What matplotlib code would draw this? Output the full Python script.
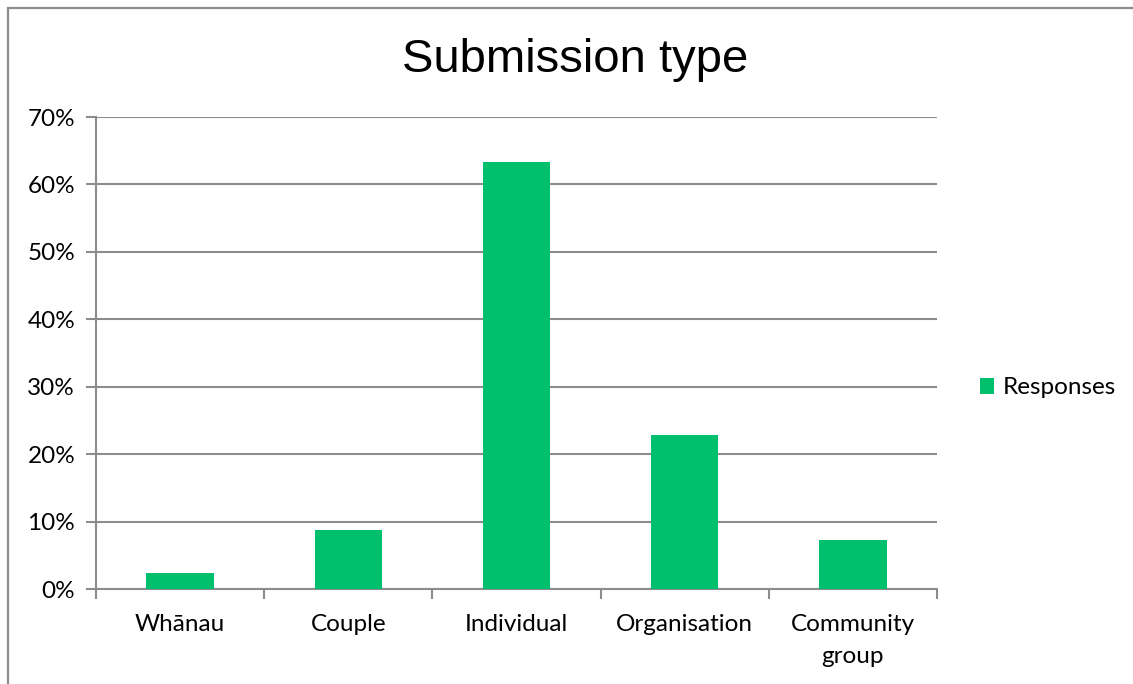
import matplotlib
matplotlib.use("Agg")
import matplotlib.pyplot as plt
from matplotlib.patches import Rectangle
import numpy as np

categories = ["Whānau", "Couple", "Individual", "Organisation", "Community\ngroup"]
responses = [2.4, 8.8, 63.3, 22.9, 7.3]
yticks = [0, 10, 20, 30, 40, 50, 60, 70]
series_name = "Responses"
title = "Submission type"

plt.rcParams['font.family'] = ['Lato', 'DejaVu Sans']

W, H = 1133, 684
fig = plt.figure(figsize=(W/100, H/100), dpi=100)
fig.patch.set_facecolor('white')

# chart border (only left/top visible in reference)
fig.add_artist(Rectangle((8/W, -0.05), 1.2, (H-8)/H + 0.05, transform=fig.transFigure,
                         fill=False, edgecolor='#8c8c8c', linewidth=1.6))

left, right, top, bottom = 96, 937, 117, 589
ax = fig.add_axes([left/W, 1-bottom/H, (right-left)/W, (bottom-top)/H])

grid_c = '#8c8c8c'
fs = 17.5
x = np.arange(len(categories))
bars = ax.bar(x, responses, width=0.4, color='#00c06e', label=series_name, zorder=3)

ax.set_xlim(-0.5, len(categories)-0.5)
ax.set_ylim(0, 70)
ax.set_yticks(yticks)
ax.set_yticklabels([f"{v}%" for v in yticks], fontsize=fs)
ax.yaxis.grid(True, color=grid_c, linewidth=1.5, zorder=0)

ax.set_xticks(np.arange(len(categories)+1) - 0.5)
ax.set_xticklabels([])
ax.set_xticks(x, minor=True)
ax.set_xticklabels(categories, minor=True, fontsize=fs, linespacing=1.62)
ax.tick_params(axis='x', which='minor', length=0, pad=18)
ax.tick_params(axis='x', which='major', length=7, width=1.5, color=grid_c, direction='out')
ax.tick_params(axis='y', length=7, width=1.5, color=grid_c, direction='out', pad=8)

for s in ['top', 'right']:
    ax.spines[s].set_visible(False)
for s in ['left', 'bottom']:
    ax.spines[s].set_color(grid_c)
    ax.spines[s].set_linewidth(1.5)

fig.text(575/W, 1-60/H, title, fontsize=34, ha='center', va='center',
         family=['Liberation Sans', 'DejaVu Sans'])

leg = fig.legend(handles=[bars], labels=[series_name], loc='center left',
                 bbox_to_anchor=(958/W, 1-388/H), frameon=False, fontsize=fs,
                 handlelength=0.6, handleheight=0.6, handletextpad=0.35)

fig.savefig("out.png", dpi=100)
